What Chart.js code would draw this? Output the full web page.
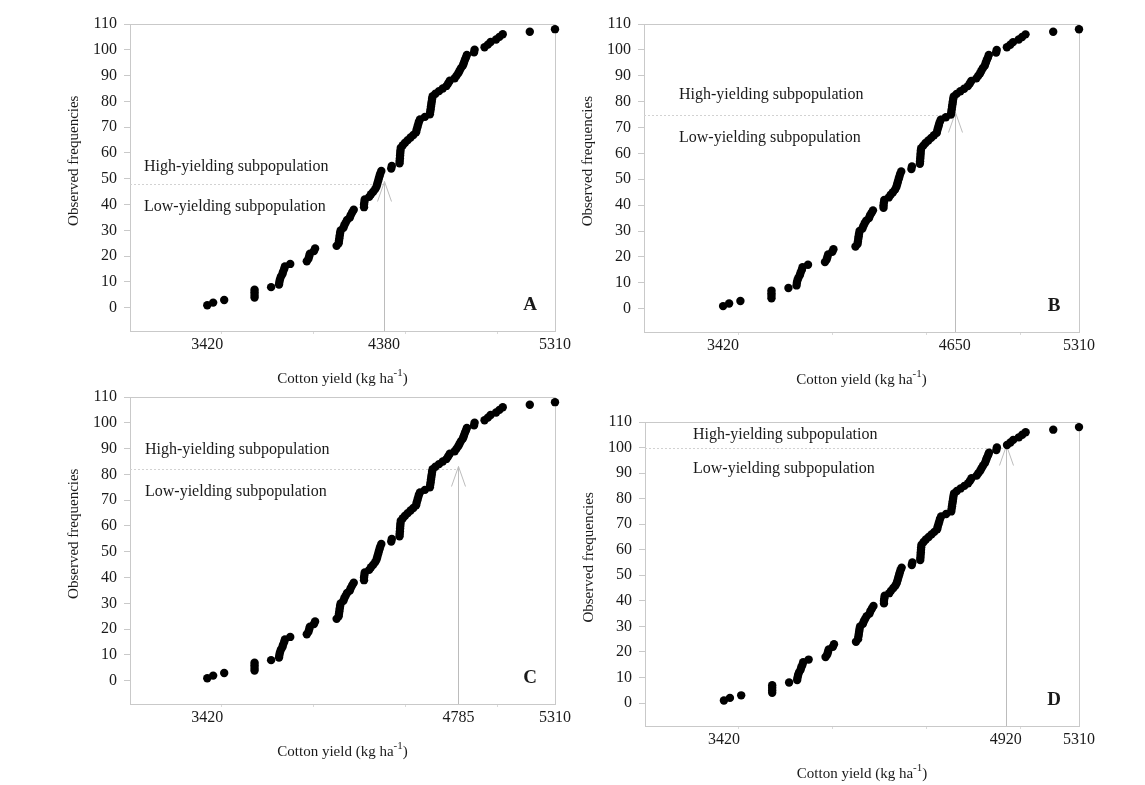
<!DOCTYPE html>
<html>
<head>
<meta charset="utf-8">
<script src="https://cdn.jsdelivr.net/npm/chart.js@4.4.1/dist/chart.umd.min.js"></script>
<style>
  html, body { margin: 0; padding: 0; background: #fff; }
  #wrap { position: relative; width: 1145px; height: 785px; overflow: hidden; }
  .panel { position: absolute; }
</style>
</head>
<body>
<div id="wrap"></div>
<script>
/* ── data (same sample in all four panels) ── */
const yields = [
  3420, 3452, 3512, 3677, 3677, 3677, 3677, 3767, 3810, 3812,
  3815, 3820, 3828, 3832, 3838, 3842, 3871, 3961, 3970, 3974,
  3978, 4000, 4006, 4123, 4134, 4136, 4138, 4140, 4142, 4145,
  4160, 4165, 4172, 4180, 4195, 4200, 4208, 4216, 4272, 4272,
  4274, 4276, 4300, 4310, 4322, 4333, 4340, 4344, 4348, 4352,
  4356, 4360, 4366, 4420, 4423, 4465, 4466, 4467, 4468, 4469,
  4470, 4472, 4483, 4495, 4510, 4525, 4540, 4555, 4558, 4562,
  4566, 4570, 4576, 4603, 4630, 4632, 4634, 4636, 4638, 4640,
  4642, 4645, 4660, 4680, 4700, 4720, 4730, 4738, 4765, 4775,
  4785, 4792, 4800, 4810, 4815, 4820, 4826, 4831, 4870, 4873,
  4927, 4945, 4960, 4990, 5008, 5026, 5173, 5310
];
const frequencies = [
  1, 2, 3, 4, 5, 6, 7, 8, 9, 10,
  11, 12, 13, 14, 15, 16, 17, 18, 19, 20,
  21, 22, 23, 24, 25, 26, 27, 28, 29, 30,
  31, 32, 33, 34, 35, 36, 37, 38, 39, 40,
  41, 42, 43, 44, 45, 46, 47, 48, 49, 50,
  51, 52, 53, 54, 55, 56, 57, 58, 59, 60,
  61, 62, 63, 64, 65, 66, 67, 68, 69, 70,
  71, 72, 73, 74, 75, 76, 77, 78, 79, 80,
  81, 82, 83, 84, 85, 86, 87, 88, 89, 90,
  91, 92, 93, 94, 95, 96, 97, 98, 99, 100,
  101, 102, 103, 104, 105, 106, 107, 108
];
const panelLetters    = ['A', 'B', 'C', 'D'];
const thresholdYields = [4380, 4650, 4785, 4920];
const thresholdFreqs  = [48, 75, 82, 100];
const yTicks          = [0, 10, 20, 30, 40, 50, 60, 70, 80, 90, 100, 110];
const minorXTicks     = [3500, 4000, 4500, 5000];
const yieldMin = 3420, yieldMax = 5310;
const xRange = [3000, 5310];
const yRange = [-9, 110];

const HIGH_TXT = 'High-yielding subpopulation';
const LOW_TXT  = 'Low-yielding subpopulation';

/* ── panel placement (page px) ── */
const LAYOUT = [
  { left: 0,   top: 0,   w: 572, h: 392, plot: { l: 130, r: 557,  t: 24,  b: 331 }, txt: { x: 144, hi: -17, lo: 23 } },
  { left: 572, top: 0,   w: 573, h: 392, plot: { l: 644, r: 1079, t: 24,  b: 332 }, txt: { x: 679, hi: -20, lo: 23 } },
  { left: 0,   top: 373, w: 572, h: 412, plot: { l: 130, r: 557,  t: 397, b: 704 }, txt: { x: 145, hi: -19, lo: 23 } },
  { left: 572, top: 392, w: 573, h: 393, plot: { l: 645, r: 1079, t: 422, b: 726 }, txt: { x: 693, hi: -13, lo: 21 } },
];

const SERIF = '"Liberation Serif", "Times New Roman", serif';
const INK = '#1a1a1a';
const FRAME = '#c9c9c9';

const panelDeco = {
  id: 'panelDeco',
  beforeDatasetsDraw(chart, args, o) {
    const { ctx, chartArea: a, scales: { x, y } } = chart;
    const tx = Math.round(x.getPixelForValue(o.thrX)) + 0.5;
    const ty = Math.round(y.getPixelForValue(o.thrY)) + 0.5;
    ctx.save();
    ctx.lineWidth = 1;
    // top + right frame
    ctx.strokeStyle = FRAME;
    ctx.beginPath();
    ctx.moveTo(a.left, a.top + 0.5);
    ctx.lineTo(a.right + 0.5, a.top + 0.5);
    ctx.lineTo(a.right + 0.5, a.bottom);
    ctx.stroke();
    // dotted threshold line
    ctx.strokeStyle = '#d2d2d2';
    ctx.setLineDash([2, 2]);
    ctx.beginPath();
    ctx.moveTo(a.left, ty);
    ctx.lineTo(tx, ty);
    ctx.stroke();
    ctx.setLineDash([]);
    // arrow up to threshold
    const tip = ty - 3;
    ctx.strokeStyle = '#bcbcbc';
    ctx.beginPath();
    ctx.moveTo(tx, a.bottom);
    ctx.lineTo(tx, tip);
    ctx.moveTo(tx - 7, tip + 20);
    ctx.lineTo(tx, tip);
    ctx.lineTo(tx + 7, tip + 20);
    ctx.stroke();
    ctx.restore();
  },
  afterDraw(chart, args, o) {
    const { ctx, chartArea: a, scales: { x, y } } = chart;
    const ty = y.getPixelForValue(o.thrY);
    ctx.save();
    ctx.fillStyle = INK;
    // subpopulation labels
    ctx.font = '16px ' + SERIF;
    ctx.textAlign = 'left';
    ctx.textBaseline = 'middle';
    ctx.fillText(HIGH_TXT, o.txtX, ty + o.hiDy);
    ctx.fillText(LOW_TXT, o.txtX, ty + o.loDy);
    // panel letter
    ctx.font = 'bold 19px ' + SERIF;
    ctx.textAlign = 'center';
    ctx.fillText(o.letter, a.right - 25, y.getPixelForValue(0) - 3);
    // y title
    ctx.font = '15px ' + SERIF;
    ctx.save();
    ctx.translate(a.left - 56, y.getPixelForValue(57));
    ctx.rotate(-Math.PI / 2);
    ctx.fillText('Observed frequencies', 0, 0);
    ctx.restore();
    // x title with superscript
    const main = 'Cotton yield (kg ha', sup = '-1', tail = ')';
    ctx.font = '15px ' + SERIF;
    const w1 = ctx.measureText(main).width, w3 = ctx.measureText(tail).width;
    ctx.font = '11px ' + SERIF;
    const w2 = ctx.measureText(sup).width;
    let cx = (a.left + a.right) / 2 - (w1 + w2 + w3) / 2;
    const by = a.bottom + 52;
    ctx.textAlign = 'left';
    ctx.textBaseline = 'alphabetic';
    ctx.font = '15px ' + SERIF;
    ctx.fillText(main, cx, by);
    cx += w1;
    ctx.font = '11px ' + SERIF;
    ctx.fillText(sup, cx, by - 7);
    cx += w2;
    ctx.font = '15px ' + SERIF;
    ctx.fillText(tail, cx, by);
    ctx.restore();
  }
};

function buildPanel(i) {
  const L = LAYOUT[i];
  const div = document.createElement('div');
  div.className = 'panel';
  div.style.left = L.left + 'px';
  div.style.top = L.top + 'px';
  div.style.width = L.w + 'px';
  div.style.height = L.h + 'px';
  const cv = document.createElement('canvas');
  cv.width = L.w; cv.height = L.h;
  div.appendChild(cv);
  document.getElementById('wrap').appendChild(div);

  const thr = thresholdYields[i];
  const labelled = [yieldMin, thr, yieldMax];
  const xTickVals = [...labelled, ...minorXTicks].sort((p, q) => p - q);
  const points = yields.map((v, k) => ({ x: v, y: frequencies[k] }));

  new Chart(cv, {
    type: 'scatter',
    data: {
      datasets: [{
        data: points,
        backgroundColor: '#000',
        borderWidth: 0,
        pointRadius: 4.2,
        pointHoverRadius: 4.2,
        clip: false,
      }]
    },
    options: {
      responsive: false,
      animation: false,
      devicePixelRatio: 1,
      layout: { padding: { top: L.plot.t - L.top, right: L.left + L.w - L.plot.r, left: 0, bottom: 0 } },
      plugins: {
        legend: { display: false },
        tooltip: { enabled: false },
        panelDeco: {
          thrX: thr, thrY: thresholdFreqs[i], letter: panelLetters[i],
          txtX: L.txt.x - L.left, hiDy: L.txt.hi, loDy: L.txt.lo,
        },
      },
      scales: {
        x: {
          type: 'linear', min: xRange[0], max: xRange[1],
          afterBuildTicks: s => { s.ticks = xTickVals.map(v => ({ value: v })); },
          afterFit: s => { s.height = L.top + L.h - L.plot.b; },
          border: { display: true, color: FRAME, width: 1 },
          grid: {
            display: true, drawOnChartArea: false, drawTicks: true, tickLength: 3,
            color: c => (c.tick && labelled.includes(c.tick.value)) ? 'rgba(0,0,0,0)' : '#dadada',
          },
          ticks: {
            padding: 1, maxRotation: 0, autoSkip: false, color: INK,
            font: { family: SERIF, size: 16 },
            callback: v => labelled.includes(v) ? String(v) : '',
          },
        },
        y: {
          type: 'linear', min: yRange[0], max: yRange[1],
          afterBuildTicks: s => { s.ticks = yTicks.map(v => ({ value: v })); },
          afterFit: s => { s.width = L.plot.l - L.left; },
          border: { display: true, color: FRAME, width: 1 },
          grid: { display: true, drawOnChartArea: false, drawTicks: true, tickLength: 6, color: FRAME },
          ticks: { padding: 7, color: INK, font: { family: SERIF, size: 16 } },
        },
      },
    },
    plugins: [panelDeco],
  });
}

panelLetters.forEach((_, i) => buildPanel(i));
</script>
</body>
</html>
